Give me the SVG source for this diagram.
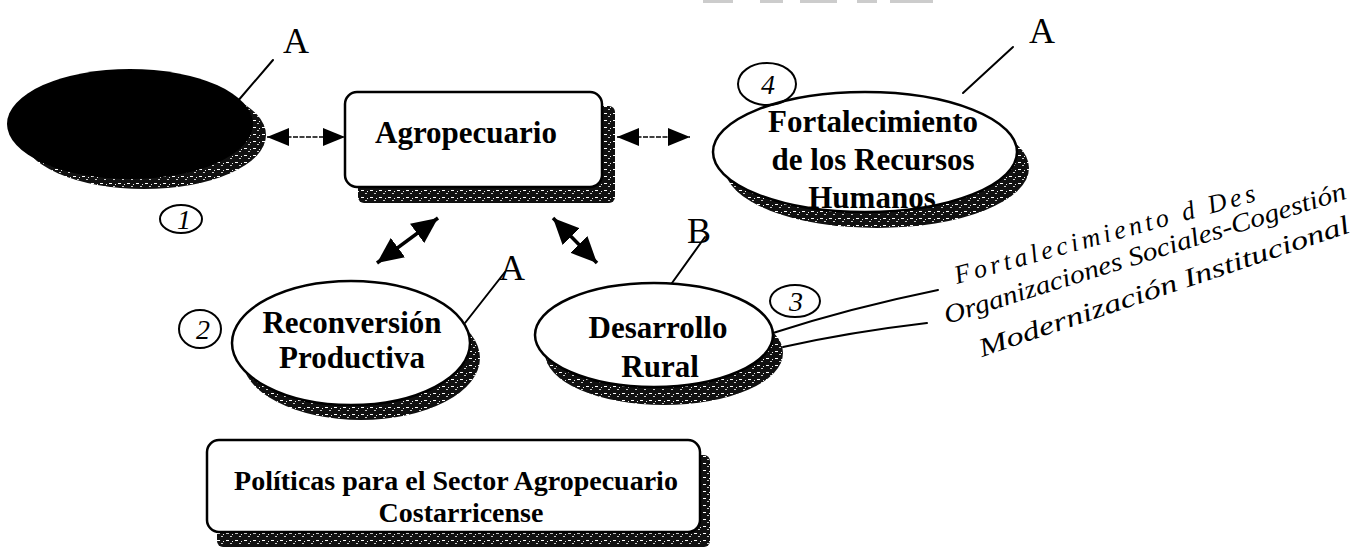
<svg xmlns="http://www.w3.org/2000/svg" width="1367" height="549" viewBox="0 0 1367 549">
<defs>
  <pattern id="spk" width="9" height="7" patternUnits="userSpaceOnUse">
    <rect width="9" height="7" fill="#111"/>
    <rect x="1" y="1" width="3" height="1" fill="#fff"/>
    <rect x="5" y="4" width="2" height="1" fill="#ccc"/>
    <rect x="7" y="2" width="1" height="1" fill="#eee"/>
  </pattern>
  <marker id="hs" markerUnits="userSpaceOnUse" markerWidth="22" markerHeight="18" refX="22" refY="9" orient="auto-start-reverse">
    <path d="M0,0 L22,9 L0,18 z" fill="#000"/>
  </marker>
  <marker id="hb" markerUnits="userSpaceOnUse" markerWidth="26" markerHeight="24" refX="26" refY="12" orient="auto-start-reverse">
    <path d="M0,0 L26,12 L0,24 z" fill="#000"/>
  </marker>
</defs>
<style>
  .nt{font-family:"Liberation Serif","Times New Roman",serif;font-weight:bold;font-size:31px;fill:#000;text-anchor:middle}
  .nt2{font-size:28px}
  .outline{fill:#fff;stroke:#000;stroke-width:2.5}
  .shadow{fill:url(#spk)}
  .hand{fill:none;stroke:#000;stroke-width:2;stroke-linecap:round}
  .ht{font-family:"Liberation Serif",serif;font-style:italic;font-size:26px;fill:#000}
  .hl{font-family:"Liberation Serif",serif;font-size:36px;fill:#000;text-anchor:middle}
  .hn{font-family:"Liberation Serif",serif;font-style:italic;font-size:28px;fill:#000;text-anchor:middle}
  .thin{fill:none;stroke:#000;stroke-width:1.6;stroke-dasharray:5 1.5;marker-start:url(#hs);marker-end:url(#hs)}
  .bold{fill:none;stroke:#000;stroke-width:3.5;marker-start:url(#hb);marker-end:url(#hb)}
</style>
<rect width="1367" height="549" fill="#fff"/>

<!-- cut-off heading fragments -->
<g id="heading-fragment" fill="#ccc">
  <rect x="703" y="0" width="30" height="3"/>
  <rect x="760" y="0" width="23" height="3"/>
  <rect x="800" y="0" width="37" height="3"/>
  <rect x="857" y="0" width="20" height="3"/>
  <rect x="890" y="0" width="43" height="3"/>
</g>

<g id="node-black">
  <ellipse class="shadow" cx="144" cy="135" rx="122" ry="54"/>
  <ellipse cx="130" cy="124" rx="123" ry="55" fill="#000"/>
</g>

<g id="node-agropecuario">
  <rect class="shadow" x="358" y="106" width="257" height="97" rx="6"/>
  <rect class="outline" x="345" y="92" width="257" height="95" rx="12"/>
  <text class="nt" x="466" y="143">Agropecuario</text>
</g>

<g id="node-fortalecimiento">
  <ellipse class="shadow" cx="877" cy="168" rx="152" ry="60"/>
  <ellipse class="outline" cx="865" cy="152" rx="152" ry="60"/>
  <text class="nt" x="873" y="132" font-size="30">Fortalecimiento</text>
  <text class="nt" x="873" y="170" font-size="30">de los Recursos</text>
  <text class="nt" x="872" y="208" font-size="30">Humanos</text>
</g>

<g id="node-reconversion">
  <ellipse class="shadow" cx="361" cy="358" rx="119" ry="62"/>
  <ellipse class="outline" cx="351" cy="343" rx="119" ry="62"/>
  <text class="nt" x="352" y="333">Reconversión</text>
  <text class="nt" x="352" y="368">Productiva</text>
</g>

<g id="node-desarrollo">
  <ellipse class="shadow" cx="664" cy="353" rx="119" ry="52"/>
  <ellipse class="outline" cx="654" cy="335" rx="119" ry="52"/>
  <text class="nt" x="658" y="338">Desarrollo</text>
  <text class="nt" x="660" y="377">Rural</text>
</g>

<g id="node-politicas">
  <rect class="shadow" x="217" y="455" width="493" height="92" rx="6"/>
  <rect class="outline" x="207" y="440" width="493" height="92" rx="12"/>
  <text class="nt nt2" x="456" y="490">Políticas para el Sector Agropecuario</text>
  <text class="nt nt2" x="461" y="522">Costarricense</text>
</g>

<g id="connectors">
  <line class="thin" x1="267" y1="137" x2="345" y2="137"/>
  <line class="thin" x1="617" y1="137" x2="690" y2="137"/>
  <line class="bold" x1="377" y1="263" x2="438" y2="218"/>
  <line class="bold" x1="553" y1="218" x2="597" y2="263"/>
</g>

<g id="annotations">
  <path class="hand" d="M273,60 L237,102"/>
  <text class="hl" x="296" y="53">A</text>
  <path class="hand" d="M1013,47 L963,93"/>
  <text class="hl" x="1042" y="43" font-size="32">A</text>
  <path class="hand" d="M505,272 L465,323"/>
  <text class="hl" x="512" y="280" font-size="32">A</text>
  <path class="hand" d="M705,237 L672,283"/>
  <text class="hl" x="699" y="243" font-size="40">B</text>

  <ellipse class="hand" cx="181" cy="219" rx="21" ry="14"/>
  <text class="hn" x="184" y="229">1</text>
  <ellipse class="hand" cx="200" cy="329" rx="21" ry="19"/>
  <text class="hn" x="203" y="339">2</text>
  <ellipse class="hand" cx="795" cy="301" rx="25" ry="16"/>
  <text class="hn" x="796" y="311">3</text>
  <ellipse class="hand" cx="767" cy="84" rx="29" ry="21"/>
  <text class="hn" x="768" y="94">4</text>

  <path class="hand" d="M773,333 Q850,308 938,290"/>
  <path class="hand" d="M783,347 Q850,332 927,323"/>

  <text class="ht" transform="translate(957,284) rotate(-15.5)" textLength="311" lengthAdjust="spacing">Fortalecimiento d Des</text>
  <text class="ht" transform="translate(947,324) rotate(-17.4)" textLength="420" lengthAdjust="spacingAndGlyphs">Organizaciones Sociales-Cogestión</text>
  <text class="ht" transform="translate(982,357) rotate(-18.7)" textLength="390" lengthAdjust="spacingAndGlyphs">Modernización Institucional</text>
</g>
</svg>
